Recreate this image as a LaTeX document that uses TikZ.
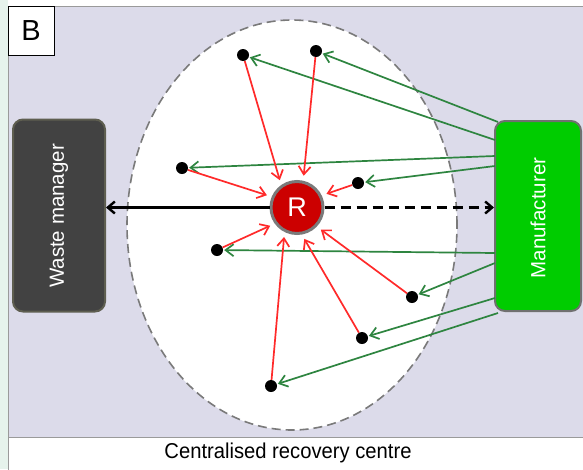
\documentclass[tikz,border=0pt]{standalone}
\usepackage{fontspec}
\setmainfont{Liberation Sans}
\usetikzlibrary{arrows.meta}
\definecolor{lav}{HTML}{DCDBEA}
\definecolor{mint}{HTML}{E6F3EC}
\definecolor{frame}{HTML}{9A9A9A}
\definecolor{wmfill}{HTML}{424242}
\definecolor{wmdraw}{HTML}{5E5E50}
\definecolor{mffill}{HTML}{00CC00}
\definecolor{mfdraw}{HTML}{707070}
\definecolor{rfill}{HTML}{CC0000}
\definecolor{rdraw}{HTML}{7A7A7A}
\definecolor{redline}{HTML}{FF2A2A}
\definecolor{greenline}{HTML}{2E8540}
\definecolor{ellline}{HTML}{7A7A7A}
\tikzset{
  actor/.style={rounded corners=10pt, line width=2pt, inner sep=0pt},
  actortext/.style={rotate=90, text=white, font=\fontsize{20.5}{20.5}\selectfont},
  dot/.style={circle, fill=black, minimum size=12pt, inner sep=0pt},
  redarrow/.style={draw=redline, line width=1.7pt, -{Straight Barb[length=8pt,width=12pt]}, shorten >=5pt},
  greenarrow/.style={draw=greenline, line width=1.7pt, -{Straight Barb[length=8pt,width=12pt]}, shorten >=1pt},
  blackarrow/.style={draw=black, line width=2.4pt, -{Straight Barb[length=7pt,width=12pt]}}
}
\begin{document}
\begin{tikzpicture}[x=1pt,y=-1pt]
\useasboundingbox (0,0) rectangle (583,469);
\fill[white] (0,0) rectangle (583,469);
\fill[mint] (0,0) rectangle (8,469);
% panel
\draw[frame, fill=lav, line width=1pt] (8,6) rectangle (600,437);
\draw[frame, fill=white, line width=1pt] (8,437) rectangle (600,475);
\node[font=\fontsize{21.5}{21.5}\selectfont, xscale=0.94] (caption) at (288,453) {Centralised recovery centre};
% B label
\node[draw=black, fill=white, line width=1pt, minimum width=46pt, minimum height=49pt, inner sep=0pt, font=\fontsize{29}{29}\selectfont] (blabel) at (31,30.5) {B};
% ellipse
\draw[ellline, fill=white, line width=1.6pt, dash pattern=on 9pt off 5pt] (292,225) ellipse [x radius=165pt, y radius=205pt];
% actors
\node[actor, draw=wmdraw, fill=wmfill, minimum width=92pt, minimum height=192pt] (wm) at (59,215.5) {};
\node[actortext] (wmtext) at (59,216) {Waste manager};
\node[actor, draw=mfdraw, fill=mffill, minimum width=86pt, minimum height=190pt] (mf) at (538,216) {};
\node[actortext] (mftext) at (538,218) {Manufacturer};
% R
\node[circle, draw=rdraw, fill=rfill, line width=3pt, minimum size=52pt, inner sep=0pt, text=white, font=\fontsize{27}{27}\selectfont] (R) at (297,207.5) {R};
% dots
\node[dot] (d1) at (243,55) {};
\node[dot] (d2) at (316,51) {};
\node[dot] (d3) at (182,168) {};
\node[dot] (d4) at (358,183) {};
\node[dot] (d5) at (217,250) {};
\node[dot] (d6) at (412,297) {};
\node[dot] (d7) at (362,338) {};
\node[dot] (d8) at (271,386) {};
% start points on manufacturer
\coordinate (m1) at (495,140);
\coordinate (m2) at (498,122);
\coordinate (m3) at (495,156);
\coordinate (m4) at (495,166);
\coordinate (m5) at (495,253);
\coordinate (m6) at (495,263);
\coordinate (m7) at (495,298);
\coordinate (m8) at (498,313);
% horizontal arrows
\draw[blackarrow] (R.west) -- (R.west -| wm.east);
\draw[blackarrow, dash pattern=on 10pt off 6pt] (R.east) -- (R.east -| mf.west);
% green arrows
\foreach \i in {1,...,8} {
  \draw[greenarrow] (m\i) -- (d\i);
}
% red arrows
\draw[redarrow] (d1) -- (R.125);
\draw[redarrow] (d2) -- (R.77);
\draw[redarrow] (d3) -- (R.157);
\draw[redarrow] (d4) -- (R.26);
\draw[redarrow] (d5) -- (R.216);
\draw[redarrow] (d6) -- (R.316);
\draw[redarrow] (d7) -- (R.280);
\draw[redarrow] (d8) -- (R.243);
\end{tikzpicture}
\end{document}
